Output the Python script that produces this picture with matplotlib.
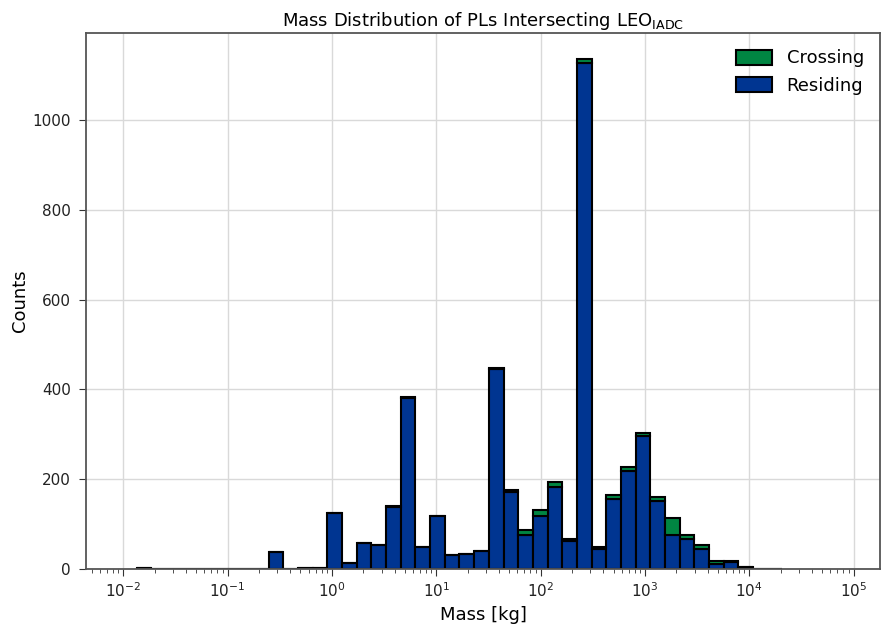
#%% imports
from matplotlib import pyplot as plt
import numpy as np

plt.rcParams['font.family'] = ['DejaVu Sans']
plt.rcParams['mathtext.default'] = 'regular'

#%% data (counts per log-spaced mass bin)
log_min = -1.871   # log10 of smallest mass [kg]
log_max = 4.317    # log10 of largest mass [kg]
n_bins = 44

residing = [2, 0, 0, 0, 0, 0, 0, 0, 0, 38,
            0, 3, 2, 124, 13, 57, 54, 139, 381, 48,
            119, 31, 34, 40, 445, 172, 75, 119, 183, 63,
            1128, 45, 156, 218, 297, 151, 76, 66, 45, 12,
            15, 4, 1, 1]
crossing = [0, 0, 0, 0, 0, 0, 0, 0, 0, 0,
            0, 0, 0, 0, 0, 0, 0, 1, 2, 0,
            0, 0, 0, 0, 2, 3, 12, 12, 11, 3,
            9, 5, 9, 9, 5, 9, 38, 9, 8, 6,
            3, 0, 0, 0]

#%% plot
bins = np.logspace(log_min, log_max, n_bins + 1)
centers = np.sqrt(bins[:-1] * bins[1:])

fig = plt.figure(figsize=(8.82, 6.27), dpi=100)
ax = fig.add_axes([0.0975, 0.0925, 0.9005, 0.8545])

blue = '#003591'
green = '#008542'
_, _, patches = ax.hist([centers, centers], bins=bins, weights=[residing, crossing],
                        stacked=True, color=[blue, green], edgecolor='black',
                        linewidth=1.5, label=['Residing', 'Crossing'])

ax.set_xscale('log')
ax.set_xlim(4.4e-3, 1.8e5)
ax.set_xticks([1e-2, 1e-1, 1e0, 1e1, 1e2, 1e3, 1e4, 1e5])
ax.grid(True, which='major', color='#d9d9d9', linewidth=1)
ax.set_axisbelow(True)

for s in ax.spines.values():
    s.set_color('#555555')
    s.set_linewidth(1.3)

ax.tick_params(axis='both', which='major', labelsize=11, length=5, color='#333333',
               labelcolor='#222222', pad=4)
ax.tick_params(axis='y', which='major', pad=6)
ax.tick_params(axis='x', which='minor', length=3, color='#333333')

ax.set_title(r'Mass Distribution of PLs Intersecting LEO$_{IADC}$', fontsize=13, pad=5)
ax.set_xlabel('Mass [kg]', fontsize=13)
ax.set_ylabel('Counts', fontsize=13, labelpad=2)

handles = [patches[1][0], patches[0][0]]
ax.legend(handles, ['Crossing', 'Residing'], loc='upper right', frameon=False,
          fontsize=13, handlelength=2, handleheight=0.9)

fig.savefig('out.png', dpi=100)
